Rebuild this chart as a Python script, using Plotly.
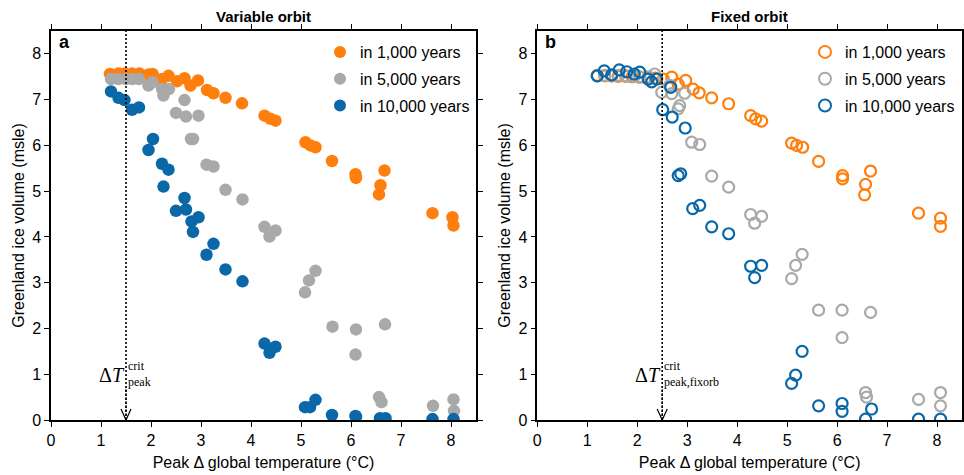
import plotly.graph_objects as go

# ---------------- data ----------------
# Variable orbit (panel a)
var_1k_x = [1.18,1.35,1.48,1.62,1.77,1.95,2.03,2.22,2.35,2.52,2.67,2.79,2.94,3.12,3.25,3.49,3.82,4.27,4.39,4.49,5.09,5.19,5.29,5.62,6.09,6.10,6.56,6.59,6.67,7.63,8.03,8.05]
var_1k_y = [7.56,7.57,7.57,7.57,7.57,7.55,7.56,7.45,7.52,7.40,7.47,7.31,7.42,7.21,7.14,7.04,6.92,6.65,6.58,6.54,6.07,6.00,5.96,5.66,5.37,5.29,4.93,5.13,5.45,4.52,4.43,4.25]

var_5k_x = [1.20,1.35,1.50,1.63,1.76,1.95,2.03,2.22,2.25,2.36,2.50,2.67,2.70,2.80,2.84,2.95,3.11,3.25,3.49,3.83,4.27,4.37,4.49,5.08,5.16,5.29,5.63,6.09,6.10,6.56,6.61,6.68,7.64,8.05,8.06]
var_5k_y = [7.45,7.45,7.45,7.45,7.45,7.31,7.38,7.23,7.09,7.23,6.71,6.99,6.63,6.14,6.14,6.65,5.58,5.54,5.03,4.82,4.22,4.01,4.14,2.79,3.05,3.26,2.04,1.43,1.98,0.50,0.39,2.09,0.31,0.45,0.20]

var_10k_x = [1.20,1.35,1.47,1.62,1.76,1.95,2.04,2.22,2.25,2.35,2.50,2.67,2.70,2.81,2.84,2.95,3.11,3.25,3.49,3.83,4.27,4.37,4.49,5.08,5.18,5.29,5.62,6.09,6.10,6.58,6.69,7.63,8.05]
var_10k_y = [7.18,7.04,6.99,6.78,6.83,5.90,6.14,5.60,5.10,5.47,4.57,4.85,4.60,4.34,4.11,4.43,3.61,3.85,3.29,3.03,1.67,1.47,1.60,0.28,0.28,0.44,0.11,0.09,0.07,0.04,0.04,0.02,0.02]

# Fixed orbit (panel b)
fix_1k_x = [1.20,1.35,1.48,1.62,1.77,1.90,2.05,2.22,2.36,2.52,2.69,2.82,2.97,3.12,3.24,3.49,3.83,4.27,4.37,4.49,5.09,5.19,5.31,5.63,6.11,6.11,6.55,6.57,6.67,7.63,8.07,8.07]
fix_1k_y = [7.53,7.52,7.52,7.51,7.51,7.50,7.49,7.48,7.47,7.45,7.49,7.34,7.42,7.23,7.15,7.04,6.91,6.65,6.58,6.53,6.05,6.00,5.96,5.65,5.34,5.27,4.92,5.15,5.44,4.52,4.41,4.23]

fix_5k_x = [1.20,1.35,1.49,1.63,1.78,1.94,2.05,2.22,2.35,2.49,2.65,2.69,2.82,2.85,2.95,3.09,3.25,3.49,3.83,4.27,4.35,4.49,5.09,5.17,5.30,5.63,6.10,6.10,6.57,6.59,6.67,7.63,8.07,8.07]
fix_5k_y = [7.52,7.53,7.52,7.53,7.52,7.51,7.50,7.50,7.56,7.16,7.31,7.13,6.80,6.87,7.14,6.07,6.02,5.33,5.09,4.49,4.30,4.45,3.09,3.38,3.62,2.40,2.40,1.80,0.60,0.50,2.35,0.45,0.60,0.31]

fix_10k_x = [1.20,1.34,1.49,1.64,1.79,1.94,2.05,2.22,2.29,2.39,2.51,2.67,2.70,2.82,2.87,2.96,3.11,3.25,3.49,3.83,4.27,4.35,4.49,5.09,5.17,5.30,5.63,6.10,6.10,6.57,6.69,7.63,8.07]
fix_10k_y = [7.52,7.63,7.54,7.65,7.61,7.56,7.60,7.45,7.39,7.45,6.78,7.27,6.62,5.34,5.38,6.38,4.62,4.69,4.22,4.07,3.36,3.11,3.38,0.80,0.98,1.50,0.31,0.36,0.19,0.02,0.24,0.02,0.02]

series_names = ["in 1,000 years", "in 5,000 years", "in 10,000 years"]
series_colors = ["#ff7f0e", "#a9a9a9", "#0a68a8"]
crit_var = 1.5
crit_fix = 2.5
tick_vals = [0, 1, 2, 3, 4, 5, 6, 7, 8]
x_title = "Peak Δ global temperature (°C)"
y_title = "Greenland ice volume (msle)"

FONT = "Liberation Sans, Arial, sans-serif"
SERIF = "Liberation Serif, DejaVu Serif, serif"
W, H = 964, 475

fig = go.Figure()

var_data = [(var_1k_x, var_1k_y), (var_5k_x, var_5k_y), (var_10k_x, var_10k_y)]
fix_data = [(fix_1k_x, fix_1k_y), (fix_5k_x, fix_5k_y), (fix_10k_x, fix_10k_y)]

for i, ((xs, ys), name, col) in enumerate(zip(var_data, series_names, series_colors)):
    fig.add_trace(go.Scatter(
        x=xs, y=ys, mode="markers", name=name, xaxis="x", yaxis="y",
        legend="legend", legendgroup="a%d" % i,
        marker=dict(symbol="circle", size=12.5, color=col, line=dict(width=0)),
        cliponaxis=True))

for i, ((xs, ys), name, col) in enumerate(zip(fix_data, series_names, series_colors)):
    fig.add_trace(go.Scatter(
        x=xs, y=ys, mode="markers", name=name, xaxis="x2", yaxis="y2",
        legend="legend2", legendgroup="b%d" % i,
        marker=dict(symbol="circle-open", size=11, color=col, line=dict(width=2.2, color=col)),
        cliponaxis=True))

x_dom_a = [51 / W, 476 / W]
x_dom_b = [537.3 / W, 962 / W]
y_dom = [1 - 420 / H, 1 - 31 / H]

axis_common = dict(
    showline=True, linecolor="black", linewidth=1.5, mirror="ticks",
    ticks="outside", ticklen=5, tickwidth=1.2, tickcolor="black",
    showgrid=False, zeroline=False, automargin=False,
    tickfont=dict(family=FONT, size=16, color="black"),
    tickvals=tick_vals,
)

fig.update_layout(
    width=W, height=H,
    margin=dict(l=0, r=0, t=0, b=0, autoexpand=False),
    paper_bgcolor="white", plot_bgcolor="white",
    font=dict(family=FONT, size=16, color="black"),
    xaxis=dict(domain=x_dom_a, range=[0, 8.5], anchor="y",
               title=dict(text=x_title, font=dict(size=16), standoff=9), **axis_common),
    yaxis=dict(domain=y_dom, range=[0, 8.5], anchor="x",
               title=dict(text=y_title, font=dict(size=16), standoff=4), **axis_common),
    xaxis2=dict(domain=x_dom_b, range=[0, 8.5], anchor="y2",
                title=dict(text=x_title, font=dict(size=16), standoff=9), **axis_common),
    yaxis2=dict(domain=y_dom, range=[0, 8.5], anchor="x2",
                title=dict(text=y_title, font=dict(size=16), standoff=4), **axis_common),
    legend=dict(x=320 / W, y=1 - 35 / H, xanchor="left", yanchor="top",
                bgcolor="rgba(0,0,0,0)", font=dict(family=FONT, size=16),
                tracegroupgap=3, itemsizing="constant"),
    legend2=dict(x=805 / W, y=1 - 35 / H, xanchor="left", yanchor="top",
                 bgcolor="rgba(0,0,0,0)", font=dict(family=FONT, size=16),
                 tracegroupgap=3, itemsizing="constant"),
    showlegend=True,
)

shapes = []
annotations = []
for xr, yr, crit, sub in [("x", "y", crit_var, "peak"), ("x2", "y2", crit_fix, "peak,fixorb")]:
    # dotted vertical line
    shapes.append(dict(type="line", xref=xr, yref=yr, x0=crit, x1=crit, y0=0, y1=8.5,
                       line=dict(color="black", width=1.6, dash="2px,2px")))
    # arrow shaft
    shapes.append(dict(type="line", xref=xr, yref=yr, x0=crit, x1=crit, y0=0, y1=0.72,
                       line=dict(color="black", width=1, dash="3px,1px")))
    # open arrow head
    shapes.append(dict(type="path", xref=xr, yref=yr, xsizemode="pixel", ysizemode="pixel",
                       xanchor=crit, yanchor=0, path="M-5,11 L0,0 L5,11",
                       line=dict(color="black", width=1.2)))
    annotations.append(dict(xref=xr, yref=yr, x=crit, y=0.98, xanchor="right", yanchor="middle",
                            xshift=1, showarrow=False, text="Δ<i>T</i>",
                            font=dict(family=SERIF, size=20, color="black")))
    annotations.append(dict(xref=xr, yref=yr, x=crit, y=1.19, xanchor="left", yanchor="middle",
                            xshift=0, showarrow=False, text="crit",
                            font=dict(family=SERIF, size=12, color="black")))
    annotations.append(dict(xref=xr, yref=yr, x=crit, y=0.84, xanchor="left", yanchor="middle",
                            xshift=0, showarrow=False, text=sub,
                            font=dict(family=SERIF, size=12, color="black")))

# panel titles and labels
annotations.append(dict(xref="paper", yref="paper", x=(x_dom_a[0] + x_dom_a[1]) / 2, y=1 - 17 / H,
                        xanchor="center", yanchor="middle", showarrow=False,
                        text="<b>Variable orbit</b>", font=dict(family=FONT, size=15)))
annotations.append(dict(xref="paper", yref="paper", x=(x_dom_b[0] + x_dom_b[1]) / 2, y=1 - 17 / H,
                        xanchor="center", yanchor="middle", showarrow=False,
                        text="<b>Fixed orbit</b>", font=dict(family=FONT, size=15)))
annotations.append(dict(xref="paper", yref="paper", x=57 / W, y=1 - 42 / H,
                        xanchor="left", yanchor="middle", showarrow=False,
                        text="<b>a</b>", font=dict(family=FONT, size=18)))
annotations.append(dict(xref="paper", yref="paper", x=543 / W, y=1 - 42 / H,
                        xanchor="left", yanchor="middle", showarrow=False,
                        text="<b>b</b>", font=dict(family=FONT, size=18)))

fig.update_layout(shapes=shapes, annotations=annotations)
fig.write_html("out.html")
